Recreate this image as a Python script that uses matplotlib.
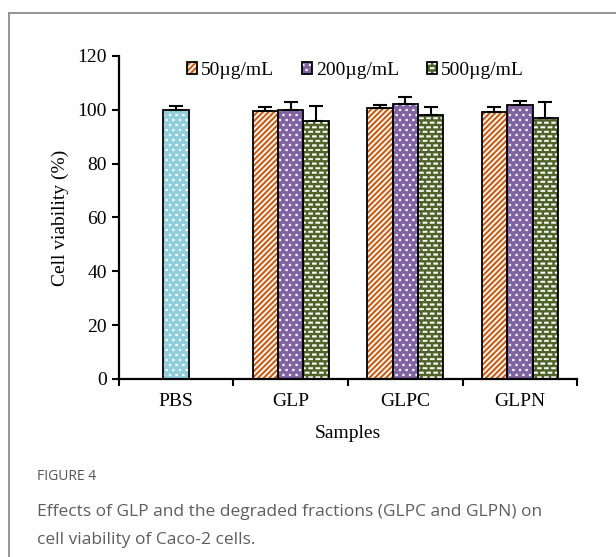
import numpy as np
import matplotlib
matplotlib.use("Agg")
import matplotlib.pyplot as plt
from matplotlib import hatch as mhatch
from matplotlib.path import Path
from matplotlib.legend_handler import HandlerTuple

# Дані.
samples = ["PBS", "GLP", "GLPC", "GLPN"]
pbsValue, pbsErr = 100.0, 1.5
doses = ["50µg/mL", "200µg/mL", "500µg/mL"]
values50 = [99.4, 100.6, 99.1]
values200 = [100.0, 102.3, 101.9]
values500 = [96.0, 98.0, 97.1]
err50 = [1.8, 1.3, 2.1]
err200 = [3.0, 2.6, 1.5]
err500 = [5.5, 2.9, 5.7]


# Власні візерунки штрихування (заповнені фігури в одиничній комірці 1 дюйм).
def rectPoly(cx, cy, w, h):
    return [(cx - w / 2, cy - h / 2), (cx + w / 2, cy - h / 2), (cx + w / 2, cy + h / 2),
            (cx - w / 2, cy + h / 2), (cx - w / 2, cy - h / 2)]


class TiledShapes(mhatch.HatchPatternBase):
    char = "*"

    def __init__(self, hatch, density):
        self.polys = self.makePolys() if self.char in hatch else []
        self.num_vertices = 5 * len(self.polys)

    def set_vertices_and_codes(self, vertices, codes):
        vertices[:] = np.array(self.polys).reshape(-1, 2)
        codes[:] = np.tile([Path.MOVETO, Path.LINETO, Path.LINETO, Path.LINETO, Path.CLOSEPOLY],
                           len(self.polys))


def brickGrid(ncols, nrows, w, h):
    polys = []
    for r in range(nrows + 1):
        shift = 0 if r % 2 == 0 else 0.5
        for c in range(-1, ncols + 1):
            polys.append(rectPoly((c + shift) / ncols, r / nrows, w, h))
    return polys


class Dots(TiledShapes):
    char = "."

    def makePolys(self):
        return brickGrid(15, 20, 0.018, 0.018)


class Dashes(TiledShapes):
    char = "*"

    def makePolys(self):
        return brickGrid(14, 22, 0.042, 0.016)


class Stripes(TiledShapes):
    char = "/"

    def makePolys(self):
        n = 18
        h = 0.18 / n
        polys = []
        for k in range(-n - 1, n + 2):
            c = k / n
            polys.append([(-0.1, -0.1 + c - h), (1.1, 1.1 + c - h), (1.1, 1.1 + c + h),
                          (-0.1, -0.1 + c + h), (-0.1, -0.1 + c - h)])
        return polys


mhatch._hatch_types = [Stripes, Dots, Dashes]

plt.rcParams['font.family'] = 'Liberation Serif'
plt.rcParams['hatch.linewidth'] = 0.3

fig = plt.figure(figsize=(6.16, 5.57), dpi=100)
ax = fig.add_axes([0.193, 0.3196, 0.744, 0.58])

styles = [
    ("#C55A11", "/"),
    ("#8064A2", "."),
    ("#4F6228", "*"),
]
width = 0.222
groupX = np.arange(1, 4) + 0.5
seriesValues = [values50, values200, values500]
seriesErr = [err50, err200, err500]
fs = 14

# Контрольний зразок PBS.
ax.bar(0.5, pbsValue, width, color="#92CDDC", edgecolor="white", hatch=".", linewidth=0, zorder=2)
ax.bar(0.5, pbsValue, width, fill=False, edgecolor="black", linewidth=1.3, zorder=3)
ax.errorbar(0.5, pbsValue, yerr=[[0], [pbsErr]], fmt="none", ecolor="black",
            elinewidth=1.5, capsize=5, capthick=1.5, zorder=4)

handles = []
for i in range(3):
    xs = groupX + (i - 1) * width
    fillBars = ax.bar(xs, seriesValues[i], width, color=styles[i][0], edgecolor="white",
                      hatch=styles[i][1], linewidth=0, zorder=2)
    edgeBars = ax.bar(xs, seriesValues[i], width, fill=False, edgecolor="black",
                      linewidth=1.3, zorder=3)
    ax.errorbar(xs, seriesValues[i], yerr=[np.zeros(3), seriesErr[i]], fmt="none",
                ecolor="black", elinewidth=1.5, capsize=5, capthick=1.5, zorder=4)
    handles.append((fillBars.patches[0], edgeBars.patches[0]))

ax.set_xlim(0, 4)
ax.set_ylim(0, 120)
ax.set_yticks(np.arange(0, 121, 20))
ax.set_xticks(np.arange(0, 5))
ax.set_xticklabels([])
ax.set_xticks(np.arange(4) + 0.5, minor=True)
ax.set_xticklabels(samples, minor=True)
ax.tick_params(axis="x", which="minor", length=0, pad=10, labelsize=fs)
ax.tick_params(axis="both", which="major", direction="out", length=5, width=1.5, labelsize=fs)
for s in ["top", "right"]:
    ax.spines[s].set_visible(False)
for s in ["left", "bottom"]:
    ax.spines[s].set_linewidth(1.6)

ax.set_ylabel("Cell viability (%)", fontsize=fs, labelpad=6)
ax.set_xlabel("Samples", fontsize=fs, labelpad=11)

ax.legend(handles, doses, handler_map={tuple: HandlerTuple(ndivide=1, pad=0)},
          loc="center", bbox_to_anchor=(0.516, 0.955), ncol=3, frameon=False,
          fontsize=fs, handlelength=0.55, handleheight=0.55, handletextpad=0.2,
          columnspacing=1.4)

# Рамка та підпис рисунка.
fig.patches.append(plt.Rectangle((9 / 616, -0.1), 1.2, 1.1 - 13 / 557, transform=fig.transFigure,
                                 fill=False, edgecolor="#8c8c8c", linewidth=1.3))
fig.text(37 / 616, 1 - 476 / 557, "FIGURE 4", family="Open Sans", fontsize=10,
         color="#555555", va="center")
fig.text(37 / 616, 1 - 512 / 557, "Effects of GLP and the degraded fractions (GLPC and GLPN) on",
         family="Open Sans", fontsize=12.5, color="#5e5e5e", va="center")
fig.text(37 / 616, 1 - 540 / 557, "cell viability of Caco-2 cells.",
         family="Open Sans", fontsize=12.5, color="#5e5e5e", va="center")

fig.savefig("out.png", dpi=100)
